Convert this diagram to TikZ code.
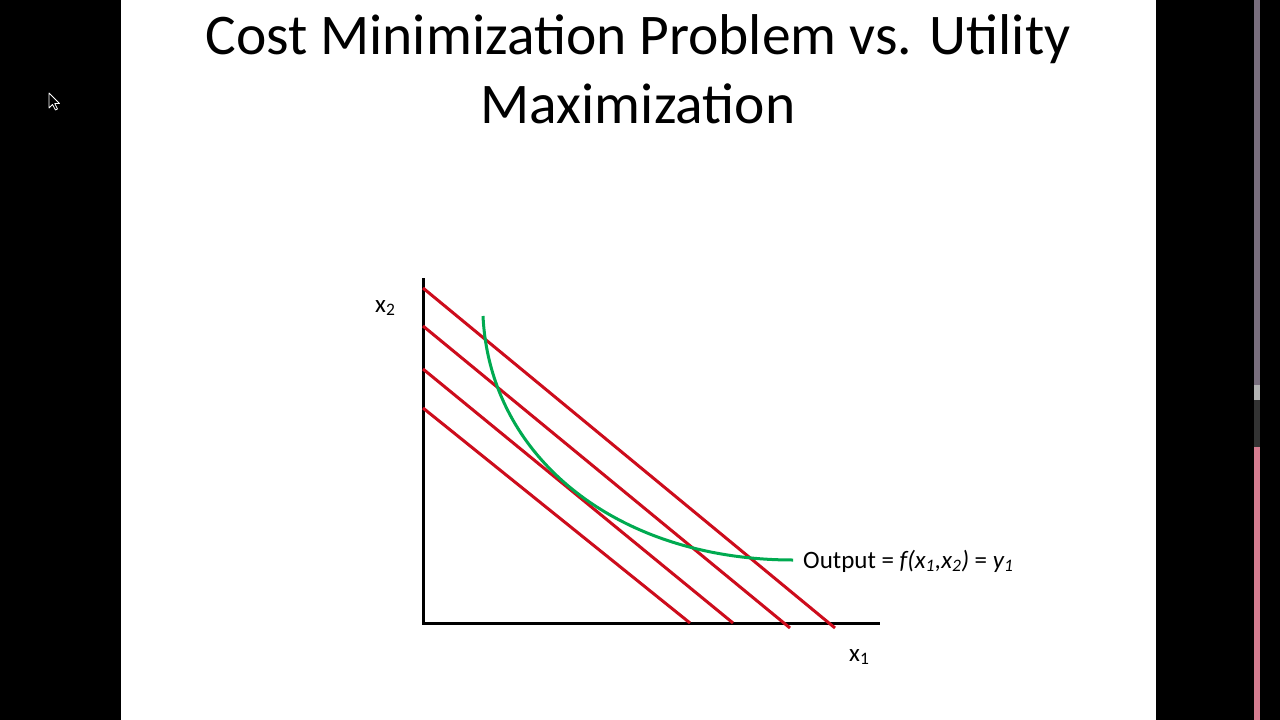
\documentclass[tikz,border=0pt]{standalone}
\usepackage{fontspec}
\setmainfont{Carlito}
\definecolor{slred}{RGB}{205,12,28}
\definecolor{slgreen}{RGB}{0,170,80}
\definecolor{noise}{RGB}{120,110,125}
\definecolor{pinkish}{RGB}{215,125,145}
\tikzset{
  axis/.style={line width=3pt, black},
  budget/.style={line width=3pt, slred},
  iso/.style={line width=3pt, slgreen},
  lbl/.style={inner sep=0pt, font=\fontsize{25}{29}\selectfont},
  ttl/.style={inner sep=0pt, anchor=base, font=\fontsize{57.5}{66}\selectfont}
}
\begin{document}
\begin{tikzpicture}[x=1pt,y=-1pt]
\useasboundingbox (0,0) rectangle (1280,720);
% screen background
\fill[black] (0,0) rectangle (1280,720);
\fill[white] (121,0) rectangle (1156,720);
% right edge strip
\fill[noise] (1254,0) rectangle (1260,385);
\fill[gray!60] (1254,385) rectangle (1260,400);
\fill[gray!40!black] (1254,400) rectangle (1260,447);
\fill[pinkish] (1254,447) rectangle (1260,720);
% mouse cursor
\draw[white, line width=0.8pt, fill=black, line join=round]
  (49,93) -- (49,108) -- (52.5,104.5) -- (55.5,110) -- (57.5,109) -- (54.8,103.5) -- (59.5,103.5) -- cycle;
% title
\node[ttl] (t1) at (638,54) {Cost Minimization Problem vs. Utility};
\node[ttl] (t2) at (638,123) {Maximization};
% axes
\coordinate (O) at (423,623);
\coordinate (ytop) at (423,278);
\coordinate (xend) at (880,623);
\draw[axis] (ytop) -- (O) -- (xend);
% budget lines
\coordinate (a1) at (423,288); \coordinate (b1) at (835,628);
\coordinate (a2) at (423,326); \coordinate (b2) at (790,628);
\coordinate (a3) at (423,369); \coordinate (b3) at (733,623);
\coordinate (a4) at (423,408); \coordinate (b4) at (690,623);
\draw[budget] (a1) -- (b1);
\draw[budget] (a2) -- (b2);
\draw[budget] (a3) -- (b3);
\draw[budget] (a4) -- (b4);
% isoquant
\coordinate (g0) at (483,316);
\coordinate (g1) at (793,560);
\draw[iso] (g0) .. controls (490,460) and (620,560) .. (g1);
% labels
\node[lbl, anchor=base west] (x2) at (375,312) {x\textsubscript{2}};
\node[lbl, anchor=base west] (x1) at (849,661) {x\textsubscript{1}};
\node[lbl, anchor=west] (out) at (803,561) {Output = \textit{f(x\textsubscript{1},x\textsubscript{2})} = \textit{y\textsubscript{1}}};
\end{tikzpicture}
\end{document}
